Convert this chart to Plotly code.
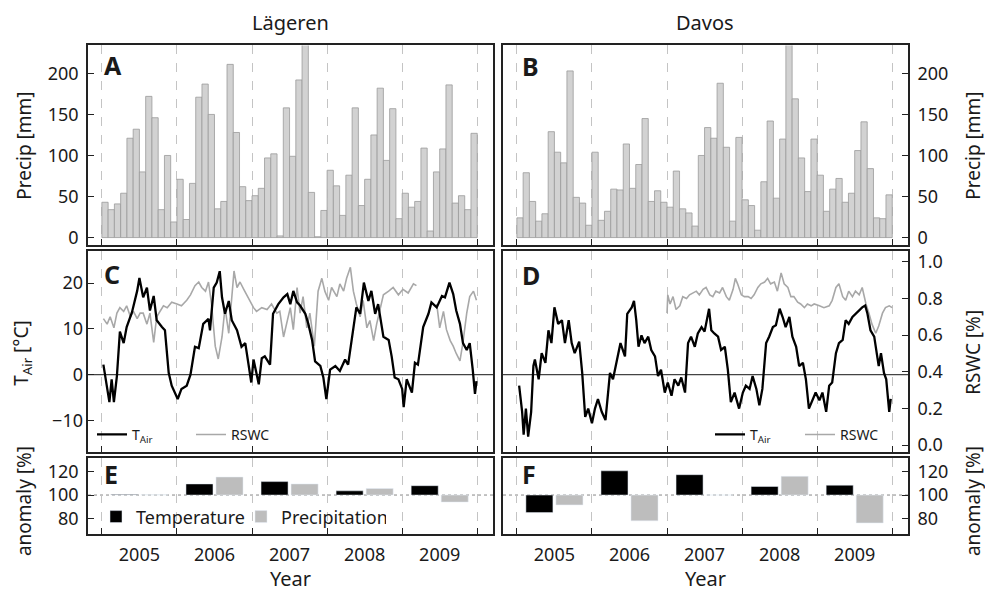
import numpy as np
import plotly.graph_objects as go

W, H = 985, 596
FONT = "Noto Sans"
INK = "#1a1a1a"

# ---------------- data ----------------
years = [2005, 2006, 2007, 2008, 2009]
year_labels = ["2005", "2006", "2007", "2008", "2009"]
months = list(range(1, 13))

precip_lageren = [43, 34, 41, 54, 121, 132, 80, 172, 146, 34, 100, 19,
                  71, 22, 66, 171, 187, 150, 35, 44, 211, 128, 62, 45,
                  51, 60, 97, 102, 2, 158, 99, 192, 236, 55, 1, 33,
                  82, 63, 27, 76, 158, 39, 71, 125, 182, 94, 157, 23,
                  54, 37, 44, 109, 8, 80, 108, 186, 42, 51, 34, 127]
precip_davos = [24, 79, 44, 20, 29, 129, 104, 91, 203, 49, 42, 15,
                104, 21, 32, 59, 58, 114, 60, 89, 145, 44, 57, 43,
                37, 81, 35, 30, 14, 100, 134, 121, 188, 110, 20, 122,
                46, 39, 9, 68, 142, 48, 120, 236, 169, 97, 56, 120,
                76, 32, 59, 72, 43, 54, 106, 141, 84, 24, 23, 52]

# Air temperature, Laegeren (decimal year, degC)
tair_lag_t = [2005.02, 2005.07, 2005.10, 2005.13, 2005.16, 2005.20, 2005.24, 2005.29, 2005.33, 2005.40, 2005.47,
              2005.50, 2005.55, 2005.60, 2005.64, 2005.69, 2005.73, 2005.80, 2005.84, 2005.89, 2005.93, 2006.01,
              2006.06, 2006.13, 2006.18, 2006.24, 2006.29, 2006.35, 2006.42, 2006.44, 2006.49, 2006.53, 2006.57,
              2006.60, 2006.64, 2006.69, 2006.73, 2006.80, 2006.86, 2006.91, 2006.95, 2006.99, 2007.02, 2007.06, 2007.09,
              2007.13, 2007.17, 2007.24, 2007.28, 2007.35, 2007.42, 2007.47, 2007.51, 2007.55, 2007.60, 2007.64,
              2007.71, 2007.75, 2007.80, 2007.84, 2007.91, 2007.95, 2007.99,
              2008.04, 2008.11, 2008.17, 2008.24, 2008.28, 2008.35, 2008.39, 2008.44, 2008.49, 2008.55, 2008.59,
              2008.64, 2008.68, 2008.75, 2008.82, 2008.86, 2008.90, 2008.95, 2009.00, 2009.02,
              2009.06, 2009.13, 2009.17, 2009.21, 2009.28, 2009.35, 2009.39, 2009.46, 2009.53, 2009.57, 2009.63,
              2009.68, 2009.72, 2009.77, 2009.81, 2009.86, 2009.90, 2009.94, 2009.97, 2009.99]
tair_lag = [2.2, -3.1, -6, -1, -6, -0.3, 9.4, 6.9, 10.4, 13.6, 18.3, 21.1, 16.9, 19, 14, 17.2, 11.9, 10.4, 9.7, 0.4, -2.4, -5.3,
            -3.1, -2.4, 0, 6.1, 5.8, 11.1, 12.2, 9.7, 19, 20.1, 22.6, 16.9, 13.3, 16.1, 11.9, 9.7, 6.1, 6.9, 2.6, -1.7, 3.3, 0.4, -2.1,
            3.6, 4, 2.2, 13.3, 15.4, 16.9, 17.6, 15.4, 18.3, 15.8, 15.1, 13.3, 11.1, 7.6, 2.9, 1.9, -0.6, -5.3,
            1.1, 1.9, 0.8, 3.3, 2.2, 10.4, 14.7, 13.3, 20.1, 16.1, 18.3, 13.3, 15.4, 8.3, 7.6, 4, -0.6, -1, -3.1, -7.1,
            -1, -3.9, 2.6, 2.2, 10.4, 13.3, 15.8, 14.7, 17.2, 16.9, 20.1, 17.6, 14, 11.1, 6.9, 5.4, 6.9, 1.1, -4.2, -1.4]

# Relative soil water content, Laegeren
rswc_lag_t = [2005.02, 2005.07, 2005.11, 2005.16, 2005.20, 2005.24, 2005.29, 2005.33, 2005.38, 2005.42, 2005.47,
              2005.51, 2005.55, 2005.60, 2005.64, 2005.69, 2005.73, 2005.78, 2005.82, 2005.87, 2005.93, 2006.00,
              2006.06, 2006.13, 2006.18, 2006.24, 2006.29, 2006.33, 2006.38, 2006.42, 2006.46, 2006.51, 2006.55,
              2006.60, 2006.64, 2006.69, 2006.73, 2006.76, 2006.80, 2006.84, 2006.89, 2006.93, 2006.97, 2007.02,
              2007.06, 2007.13, 2007.20, 2007.26, 2007.33, 2007.37, 2007.42, 2007.46, 2007.51, 2007.55, 2007.60,
              2007.64, 2007.68, 2007.73, 2007.77, 2007.83, 2007.88, 2007.93, 2007.97, 2008.02,
              2008.06, 2008.13, 2008.17, 2008.22, 2008.26, 2008.31, 2008.35, 2008.39, 2008.44, 2008.48, 2008.53,
              2008.57, 2008.62, 2008.66, 2008.70, 2008.75, 2008.82, 2008.88, 2008.95, 2009.01, 2009.08, 2009.15, 2009.19,
              2009.30,
              2009.46, 2009.50, 2009.55, 2009.59, 2009.64, 2009.68, 2009.72, 2009.77, 2009.81, 2009.86, 2009.90, 2009.95, 2009.99]
rswc_lag = [0.69, 0.66, 0.70, 0.64, 0.72, 0.75, 0.73, 0.76, 0.70, 0.73, 0.69, 0.72, 0.72, 0.66, 0.72, 0.56, 0.70, 0.73, 0.76, 0.75, 0.78, 0.77,
            0.76, 0.79, 0.82, 0.87, 0.89, 0.86, 0.84, 0.89, 0.77, 0.54, 0.47, 0.59, 0.75, 0.61, 0.81, 0.95, 0.86, 0.89, 0.85, 0.82, 0.79, 0.75,
            0.73, 0.75, 0.74, 0.77, 0.72, 0.73, 0.59, 0.66, 0.75, 0.63, 0.86, 0.72, 0.81, 0.64, 0.72, 0.54, 0.84, 0.91, 0.84, 0.79,
            0.86, 0.81, 0.88, 0.84, 0.91, 0.97, 0.84, 0.77, 0.70, 0.79, 0.64, 0.68, 0.57, 0.66, 0.73, 0.82, 0.84, 0.86, 0.82, 0.85, 0.83, 0.88, 0.87,
            None,
            0.77, 0.64, 0.73, 0.63, 0.57, 0.54, 0.50, 0.46, 0.56, 0.72, 0.81, 0.84, 0.79]

# Air temperature, Davos
tair_dav_t = [2005.03, 2005.07, 2005.09, 2005.12, 2005.15, 2005.19, 2005.22, 2005.24, 2005.29, 2005.33, 2005.38, 2005.42,
              2005.46, 2005.50, 2005.55, 2005.60, 2005.64, 2005.69, 2005.73, 2005.77, 2005.83, 2005.87, 2005.91, 2005.95, 2006.00,
              2006.04, 2006.08, 2006.13, 2006.18, 2006.24, 2006.28, 2006.33, 2006.38, 2006.44, 2006.47, 2006.53, 2006.56,
              2006.59, 2006.62, 2006.66, 2006.70, 2006.75, 2006.79, 2006.84, 2006.88, 2006.92, 2006.97, 2007.01,
              2007.06, 2007.10, 2007.15, 2007.19, 2007.24, 2007.28, 2007.32, 2007.37, 2007.41, 2007.46, 2007.50,
              2007.56, 2007.59, 2007.63, 2007.68, 2007.72, 2007.77, 2007.81, 2007.85, 2007.90, 2007.96, 2008.01,
              2008.05, 2008.10, 2008.14, 2008.19, 2008.23, 2008.27, 2008.32, 2008.36, 2008.41, 2008.45, 2008.50,
              2008.54, 2008.58, 2008.63, 2008.67, 2008.72, 2008.76, 2008.81, 2008.85, 2008.89, 2008.94, 2008.98, 2009.03,
              2009.07, 2009.12, 2009.16, 2009.20, 2009.25, 2009.29, 2009.34, 2009.38, 2009.42, 2009.47, 2009.51,
              2009.56, 2009.60, 2009.64, 2009.67, 2009.71, 2009.76, 2009.80, 2009.82, 2009.85, 2009.89, 2009.92, 2009.96, 2009.98]
tair_dav = [-2.4, -8.1, -13.1, -7.4, -13.5, -8.1, 1.9, 3.3, -1, 4.7, 2.6, 9.7, 6.9, 14.7, 11.1, 11.9, 6.9, 11.9, 6.9, 4.7, 7.2, 0.4, -9.2, -7.4, -10.6,
            -7.4, -5.3, -8.1, -9.9, 0.4, -1, 3.3, 6.9, 4, 13.3, 14.7, 16.1, 11.9, 6.1, 8.6, 6.9, 8.3, 5.4, 4, -0.3, 1.1, -3.9, -1.7,
            -4.6, -1, -2.4, -0.6, -3.9, 6.9, 8.3, 6.1, 9, 10.4, 9.4, 14.4, 9.7, 9, 8.3, 5.4, 6.1, 1.1, -6, -3.9, -7.4, -3.9,
            -2.4, -3.1, -0.3, -3.1, -6.7, -3.1, 6.9, 8.3, 10.4, 10.8, 14.4, 12.6, 10.4, 12.6, 8.3, 6.1, 1.9, 2.6, -1, -7.4, -5.3, -3.9, -5.6,
            -3.9, -8.1, -2.4, -1.7, 4.7, 6.9, 7.6, 11.9, 11.1, 12.6, 13.3, 14, 14.7, 15.1, 13.3, 9.7, 8.3, 4, 1.9, 4.7, 0.4, -1, -8.1, -5.3]

# Relative soil water content, Davos (from 2007)
rswc_dav_t = [2007.00, 2007.01, 2007.04, 2007.08, 2007.12, 2007.17, 2007.21, 2007.26, 2007.30, 2007.35, 2007.39, 2007.43,
              2007.48, 2007.52, 2007.57, 2007.61, 2007.65, 2007.70, 2007.74, 2007.79, 2007.83, 2007.88, 2007.91, 2007.94, 2007.99,
              2008.03, 2008.08, 2008.12, 2008.16, 2008.21, 2008.25, 2008.30, 2008.34, 2008.38, 2008.43, 2008.47,
              2008.52, 2008.56, 2008.61, 2008.65, 2008.69, 2008.74, 2008.78, 2008.83, 2008.87, 2008.92, 2008.96,
              2009.03, 2009.09, 2009.16, 2009.20, 2009.25, 2009.29, 2009.34, 2009.38, 2009.42, 2009.47, 2009.51,
              2009.56, 2009.60, 2009.65, 2009.69, 2009.73, 2009.78, 2009.82, 2009.87, 2009.91, 2009.96, 2010.00]
rswc_dav = [0.72, 0.82, 0.77, 0.81, 0.74, 0.76, 0.81, 0.80, 0.82, 0.83, 0.84, 0.82, 0.85, 0.86, 0.82, 0.81, 0.84, 0.83, 0.86, 0.81, 0.79, 0.85, 0.91, 0.88, 0.82,
            0.81, 0.81, 0.80, 0.82, 0.86, 0.88, 0.89, 0.91, 0.88, 0.89, 0.84, 0.94, 0.88, 0.86, 0.81, 0.81, 0.78, 0.77, 0.75, 0.77, 0.76, 0.77,
            0.76, 0.75, 0.76, 0.79, 0.86, 0.88, 0.81, 0.79, 0.84, 0.81, 0.84, 0.82, 0.86, 0.77, 0.72, 0.66, 0.61, 0.65, 0.72, 0.75, 0.76, 0.75]

# Annual anomalies [%]
temp_anom_lag = [100.5, 109.5, 111.5, 103.6, 108.0]
prec_anom_lag = [100.2, 115.4, 109.5, 105.6, 94.0]
temp_anom_dav = [85.0, 120.7, 117.4, 107.3, 108.4]
prec_anom_dav = [91.6, 78.0, 100.0, 116.0, 76.2]

precip_ticks = [0, 50, 100, 150, 200]
tair_ticks = [-10, 0, 10, 20]
rswc_ticks = [0.0, 0.2, 0.4, 0.6, 0.8, 1.0]
anom_ticks = [80, 100, 120]

# ---------------- helpers ----------------
def X(px):
    return px / W


def Y(py):
    return 1 - py / H


month_x = (np.repeat(years, 12) + (np.tile(months, len(years)) - 0.5) / 12.0)
year_mid = [y + 0.5 for y in years]

LEFT = [X(88), X(493)]
RIGHT = [X(503), X(908)]
ROW1 = [Y(246), Y(44)]
ROW2 = [Y(455), Y(252)]
ROW3 = [Y(538), Y(461)]
XR = [2004.815, 2010.21]

fig = go.Figure()

bar_style = dict(color="#d2d2d2", line=dict(color="#9a9a9a", width=0.8))
fig.add_trace(go.Bar(x=month_x, y=precip_lageren, width=1 / 12, marker=bar_style,
                     xaxis="x", yaxis="y", showlegend=False, name="Precip Lägeren"))
fig.add_trace(go.Bar(x=month_x, y=precip_davos, width=1 / 12, marker=bar_style,
                     xaxis="x2", yaxis="y2", showlegend=False, name="Precip Davos"))

GRAY = "#a8a8a8"
# C: RSWC on base axis y3 (drawn first), T on overlay y7 (drawn on top)
fig.add_trace(go.Scatter(x=rswc_lag_t, y=rswc_lag, mode="lines", line=dict(color=GRAY, width=1.6),
                         xaxis="x3", yaxis="y3", name="RSWC", legend="legend2", connectgaps=False,
                         legendrank=2))
fig.add_trace(go.Scatter(x=tair_lag_t, y=tair_lag, mode="lines", line=dict(color="black", width=2.3),
                         xaxis="x3", yaxis="y7", name="T<sub>Air</sub>", legend="legend2", legendrank=1))
# D
fig.add_trace(go.Scatter(x=rswc_dav_t, y=rswc_dav, mode="lines", line=dict(color=GRAY, width=1.6),
                         xaxis="x4", yaxis="y4", name="RSWC", legend="legend3", legendrank=2))
fig.add_trace(go.Scatter(x=tair_dav_t, y=tair_dav, mode="lines", line=dict(color="black", width=2.3),
                         xaxis="x4", yaxis="y8", name="T<sub>Air</sub>", legend="legend3", legendrank=1))

# E / F anomaly bars (drawn from a base of 100 %)
BW = 0.36
fig.add_trace(go.Bar(x=year_mid, y=np.array(temp_anom_lag) - 100, base=100, width=BW, offset=-0.38,
                     marker=dict(color="black"), xaxis="x5", yaxis="y5", name="Temperature", legend="legend"))
fig.add_trace(go.Bar(x=year_mid, y=np.array(prec_anom_lag) - 100, base=100, width=BW, offset=0.02,
                     marker=dict(color="#bdbdbd"), xaxis="x5", yaxis="y5", name="Precipitation", legend="legend"))
fig.add_trace(go.Bar(x=year_mid, y=np.array(temp_anom_dav) - 100, base=100, width=BW, offset=-0.38,
                     marker=dict(color="black"), xaxis="x6", yaxis="y6", name="Temperature", showlegend=False))
fig.add_trace(go.Bar(x=year_mid, y=np.array(prec_anom_dav) - 100, base=100, width=BW, offset=0.02,
                     marker=dict(color="#bdbdbd"), xaxis="x6", yaxis="y6", name="Precipitation", showlegend=False))

FRAME = dict(showline=True, mirror=True, linecolor="#222", linewidth=1.6)
TICKFONT = dict(family=FONT, size=18, color=INK)


def xaxis(domain, anchor, labels):
    return dict(domain=domain, anchor=anchor, range=XR, **FRAME, showgrid=False, zeroline=False,
                tickmode="array", tickvals=year_mid, ticktext=year_labels, ticks="",
                showticklabels=labels, tickfont=TICKFONT, ticklabelstandoff=4,
                minor=dict(tickmode="linear", tick0=2005, dtick=1, ticks="inside", ticklen=6,
                           tickcolor="#222", tickwidth=1.3, showgrid=True, gridcolor="#c4c4c4",
                           griddash="dash", gridwidth=1))


def yaxis(domain, anchor, rng, tickvals, side, labels=True, ticks=True, fmt=None, overlay=None, frame=True):
    d = dict(range=rng, side=side, showgrid=False, zeroline=False, tickmode="array", tickvals=tickvals,
             ticks="inside" if ticks else "", ticklen=6, tickcolor="#222", tickwidth=1.3,
             showticklabels=labels, tickfont=TICKFONT, ticklabelstandoff=4, anchor=anchor)
    if frame:
        d.update(FRAME)
    else:
        d.update(showline=False)
    if overlay:
        d["overlaying"] = overlay
    else:
        d["domain"] = domain
    if fmt:
        d["tickformat"] = fmt
    return d


PR = [-9.2, 234]
TR = [-16.8, 27.0]
RR = [-0.036, 1.059]
AR = [67, 132]

layout = dict(
    width=W, height=H, margin=dict(l=0, r=0, t=0, b=0),
    paper_bgcolor="white", plot_bgcolor="white",
    font=dict(family=FONT, color=INK),
    barmode="overlay", showlegend=True,
    xaxis=xaxis(LEFT, "y", False),
    xaxis2=xaxis(RIGHT, "y2", False),
    xaxis3=xaxis(LEFT, "y3", False),
    xaxis4=xaxis(RIGHT, "y4", False),
    xaxis5=xaxis(LEFT, "y5", True),
    xaxis6=xaxis(RIGHT, "y6", True),
    yaxis=yaxis(ROW1, "x", PR, precip_ticks, "left"),
    yaxis2=yaxis(ROW1, "x2", PR, precip_ticks, "right"),
    yaxis3=yaxis(ROW2, "x3", RR, rswc_ticks, "right", labels=False, ticks=False),
    yaxis7=yaxis(None, "x3", TR, tair_ticks, "left", overlay="y3", frame=False),
    yaxis4=yaxis(ROW2, "x4", RR, rswc_ticks, "right", fmt=".1f"),
    yaxis8=yaxis(None, "x4", TR, tair_ticks, "left", labels=False, ticks=False, overlay="y4", frame=False),
    yaxis5=yaxis(ROW3, "x5", AR, anom_ticks, "left"),
    yaxis6=yaxis(ROW3, "x6", AR, anom_ticks, "right"),
    legend=dict(x=X(96), y=Y(521), xanchor="left", yanchor="middle", orientation="h",
                bgcolor="rgba(0,0,0,0)", font=dict(family=FONT, size=18, color=INK),
                entrywidth=100, entrywidthmode="pixels", itemwidth=30, tracegroupgap=0),
    legend2=dict(x=X(92), y=Y(438), xanchor="left", yanchor="middle", orientation="h",
                 bgcolor="rgba(0,0,0,0)", font=dict(family=FONT, size=14, color=INK),
                 entrywidth=54, entrywidthmode="pixels", itemwidth=30),
    legend3=dict(x=X(710), y=Y(438), xanchor="left", yanchor="middle", orientation="h",
                 bgcolor="rgba(0,0,0,0)", font=dict(family=FONT, size=14, color=INK),
                 entrywidth=45, entrywidthmode="pixels", itemwidth=30),
)
fig.update_layout(**layout)

# zero line for temperature and 100 % reference line for anomalies
fig.add_shape(type="line", xref="x3 domain", x0=0, x1=1, yref="y7", y0=0, y1=0,
              line=dict(color="#444", width=1.2), layer="below")
fig.add_shape(type="line", xref="x4 domain", x0=0, x1=1, yref="y8", y0=0, y1=0,
              line=dict(color="#444", width=1.2), layer="below")
for xr, yr in (("x5 domain", "y5"), ("x6 domain", "y6")):
    fig.add_shape(type="line", xref=xr, x0=0, x1=1, yref=yr, y0=100, y1=100,
                  line=dict(color="#888", width=1, dash="dot"), layer="below")

ann = []


def text(px, py, s, size, bold=False, angle=0, xanchor="center"):
    ann.append(dict(x=X(px), y=Y(py), xref="paper", yref="paper", text=f"<b>{s}</b>" if bold else s,
                    showarrow=False, xanchor=xanchor, yanchor="middle", textangle=angle,
                    font=dict(family=FONT, size=size, color=INK)))


text(290.5, 21, "Lägeren", 20)
text(705, 21, "Davos", 20)
text(290.5, 583, "Year", 20)
text(705, 583, "Year", 20)
for lab, px, py in (("A", 102, 64), ("B", 520, 65), ("C", 102, 275), ("D", 520, 276), ("E", 102, 478), ("F", 520, 478)):
    text(px, py, lab, 25, bold=True, xanchor="left")
text(24, 145.5, "Precip [mm]", 19, angle=-90)
text(22, 355, "T<sub>Air</sub> [°C]", 19, angle=-90)
text(24, 505, "anomaly [%]", 19, angle=-90)
text(973, 145.5, "Precip [mm]", 19, angle=-90)
text(973, 355, "RSWC [%]", 19, angle=-90)
text(973, 505, "anomaly [%]", 19, angle=-90)
fig.update_layout(annotations=ann)

fig.write_html("out.html")
